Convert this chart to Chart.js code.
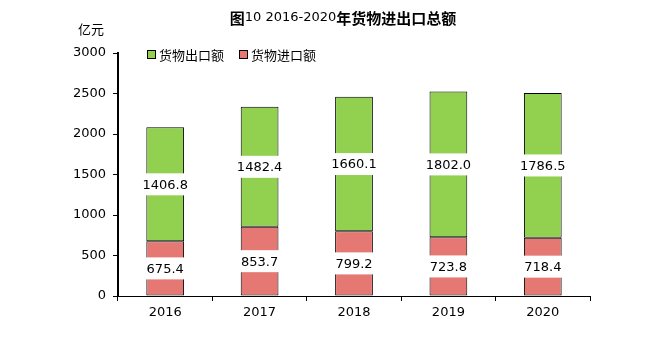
<!DOCTYPE html>
<html>
<head>
<meta charset="utf-8">
<script src="https://cdn.jsdelivr.net/npm/chart.js@4.4.1/dist/chart.umd.min.js"></script>
<style>
    body { margin: 0; background: #fff; }
    #wrap { width: 649px; height: 338px; }
</style>
</head>
<body>
<div id="wrap"><canvas id="tradeChart" width="649" height="338"></canvas></div>
<script>
const years = ['2016', '2017', '2018', '2019', '2020'];
const exportValues = [1406.8, 1482.4, 1660.1, 1802.0, 1786.5];
const importValues = [675.4, 853.7, 799.2, 723.8, 718.4];
const yTicks = [0, 500, 1000, 1500, 2000, 2500, 3000];

const cjk = '"Noto Sans CJK SC", sans-serif';
const num = '"DejaVu Sans", sans-serif';

// value boxes in the middle of every segment
const valueLabels = {
    id: 'valueLabels',
    afterDatasetsDraw(chart) {
        const ctx = chart.ctx;
        ctx.save();
        ctx.font = '13px ' + num;
        ctx.textAlign = 'center';
        ctx.textBaseline = 'middle';
        chart.data.datasets.forEach(function (ds, i) {
            chart.getDatasetMeta(i).data.forEach(function (bar, j) {
                const text = ds.data[j].toFixed(1);
                const cy = (bar.y + bar.base) / 2;
                const w = ctx.measureText(text).width + 6;
                ctx.fillStyle = '#fff';
                ctx.fillRect(bar.x - w / 2, cy - 11, w, 22);
                ctx.fillStyle = '#000';
                ctx.fillText(text, bar.x, cy + 1);
            });
        });
        ctx.restore();
    }
};

// title, unit and legend
const decorations = {
    id: 'decorations',
    afterDraw(chart) {
        const ctx = chart.ctx;
        ctx.save();
        ctx.textBaseline = 'middle';
        ctx.fillStyle = '#000';

        const parts = [
            ['bold 15px ' + cjk, '图'],
            ['13px ' + num, '10 2016-2020'],
            ['bold 15px ' + cjk, '年货物进出口总额']
        ];
        let total = 0;
        parts.forEach(function (p) { ctx.font = p[0]; total += ctx.measureText(p[1]).width; });
        let x = 343 - total / 2;
        ctx.textAlign = 'left';
        parts.forEach(function (p) {
            ctx.font = p[0];
            ctx.fillText(p[1], x, 18);
            x += ctx.measureText(p[1]).width;
        });

        ctx.font = '13px ' + cjk;
        ctx.fillText('亿元', 78, 29);

        const items = [
            [chart.data.datasets[1], 147],
            [chart.data.datasets[0], 239]
        ];
        items.forEach(function (it) {
            const ds = it[0], lx = it[1];
            ctx.fillStyle = ds.backgroundColor;
            ctx.fillRect(lx, 50, 9, 9);
            ctx.strokeStyle = '#000';
            ctx.lineWidth = 1;
            ctx.strokeRect(lx + 0.5, 50.5, 8, 8);
            ctx.fillStyle = '#000';
            ctx.font = '13px ' + cjk;
            ctx.fillText(ds.label, lx + 12, 55);
        });
        ctx.restore();
    }
};

new Chart(document.getElementById('tradeChart'), {
    type: 'bar',
    data: {
        labels: years,
        datasets: [{
            label: '货物进口额',
            data: importValues,
            backgroundColor: '#E57873',
            borderColor: '#000',
            borderWidth: 1,
            borderSkipped: false
        }, {
            label: '货物出口额',
            data: exportValues,
            backgroundColor: '#92D050',
            borderColor: '#000',
            borderWidth: 1,
            borderSkipped: false
        }]
    },
    options: {
        responsive: false,
        animation: false,
        layout: { padding: { top: 53, right: 59, left: 0, bottom: 12 } },
        plugins: {
            legend: { display: false },
            title: { display: false },
            tooltip: { enabled: false }
        },
        datasets: {
            bar: { barPercentage: 0.4, categoryPercentage: 1 }
        },
        scales: {
            x: {
                stacked: true,
                grid: { drawOnChartArea: false, color: '#000', tickLength: 5, offset: true },
                border: { color: '#000', width: 1 },
                ticks: { color: '#000', font: { family: num, size: 13 }, padding: 4 },
                afterFit: function (scale) { scale.height = 30; }
            },
            y: {
                stacked: true,
                min: 0,
                max: 3000,
                grid: { drawOnChartArea: false, color: '#000', tickLength: 5 },
                border: { color: '#000', width: 2 },
                afterBuildTicks: function (scale) {
                    scale.ticks = yTicks.map(function (v) { return { value: v }; });
                },
                ticks: {
                    color: '#000',
                    font: { family: num, size: 13 },
                    padding: 7,
                    callback: function (value) { return String(value); }
                },
                afterFit: function (scale) { scale.width = 118; }
            }
        }
    },
    plugins: [valueLabels, decorations]
});
</script>
</body>
</html>
